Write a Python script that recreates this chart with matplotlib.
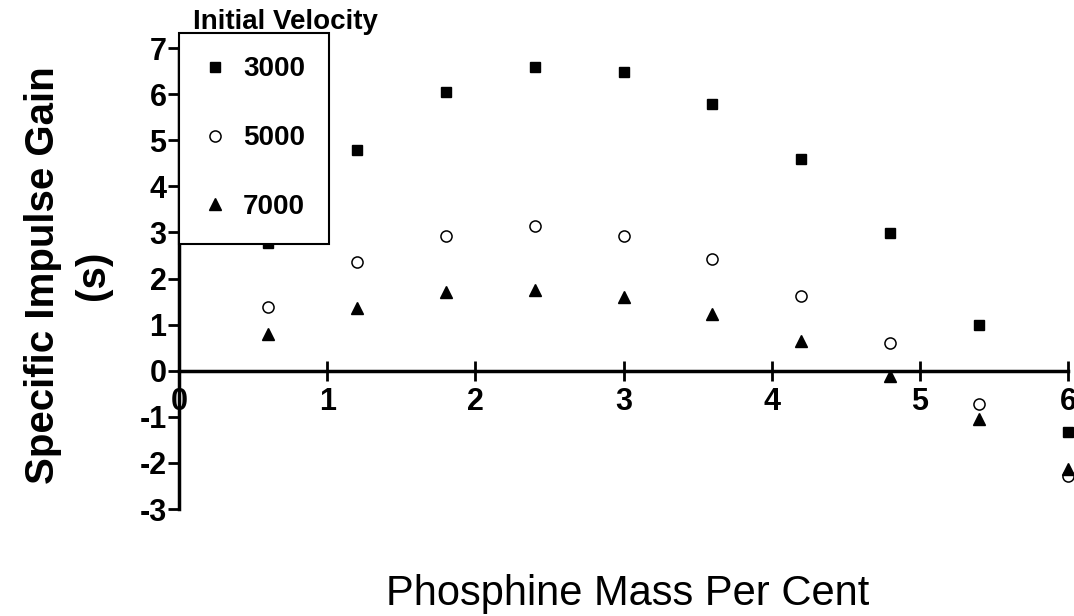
import numpy as np
import matplotlib
matplotlib.use("Agg")
import matplotlib.pyplot as plt

plt.rcParams['font.family'] = ['Liberation Sans', 'DejaVu Sans']
plt.rcParams['axes.unicode_minus'] = False

# phosphine mass per cent
mass = [0.6, 1.2, 1.8, 2.4, 3.0, 3.6, 4.2, 4.8, 5.4, 6.0]
# specific impulse gain (s) for each initial velocity
gain_3000 = [2.78, 4.78, 6.04, 6.59, 6.48, 5.78, 4.59, 2.98, 1.00, -1.33]
gain_5000 = [1.39, 2.35, 2.93, 3.13, 2.93, 2.43, 1.63, 0.60, -0.72, -2.28]
gain_7000 = [0.80, 1.37, 1.70, 1.76, 1.59, 1.22, 0.65, -0.11, -1.04, -2.13]
labels = ['3000', '5000', '7000']
xticks = [0, 1, 2, 3, 4, 5, 6]
yticks = [-3, -2, -1, 0, 1, 2, 3, 4, 5, 6, 7]

fig = plt.figure(figsize=(10.74, 6.16), dpi=100)
ax = fig.add_axes([0.1667, 0.1737, 0.8277, 0.7483])

ax.plot(mass, gain_3000, 's', color='black', ms=7, label=labels[0], clip_on=False)
ax.plot(mass, gain_5000, 'o', mfc='white', mec='black', mew=1.1, ms=8, label=labels[1], clip_on=False)
ax.plot(mass, gain_7000, '^', color='black', ms=8, label=labels[2], clip_on=False)

ax.set_xlim(0, 6)
ax.set_ylim(-3, 7)
ax.spines['top'].set_visible(False)
ax.spines['right'].set_visible(False)
ax.spines['bottom'].set_position(('data', 0))
ax.spines['bottom'].set_linewidth(2.5)
ax.spines['left'].set_linewidth(2.5)
ax.set_xticks(xticks)
ax.set_yticks(yticks)
ax.tick_params(axis='x', direction='inout', length=14, width=2, pad=5, labelsize=22)
ax.tick_params(axis='y', direction='out', length=8, width=2, pad=1, labelsize=22)
for t in ax.get_xticklabels() + ax.get_yticklabels():
    t.set_fontweight('bold')

leg = ax.legend(loc='upper left', bbox_to_anchor=(0.0, 1.033), borderaxespad=0,
                frameon=True, fancybox=False, edgecolor='black', framealpha=1,
                prop={'size': 20, 'weight': 'bold'}, labelspacing=1.54,
                handlelength=0.9, handletextpad=0.55, borderpad=0.85, numpoints=1)
leg.get_frame().set_linewidth(1.5)

fig.text(193 / 1074, 1 - 29 / 616, 'Initial Velocity', fontsize=20, fontweight='bold',
         ha='left', va='baseline')
fig.text(68 / 1074, 0.553, 'Specific Impulse Gain\n(s)', fontsize=29, fontweight='bold',
         rotation=90, ha='center', va='center', multialignment='center', linespacing=1.4)
fig.text(628 / 1074, 1 - 605 / 616, 'Phosphine Mass Per Cent', fontsize=30,
         ha='center', va='baseline')

fig.savefig('out.png', dpi=100)
